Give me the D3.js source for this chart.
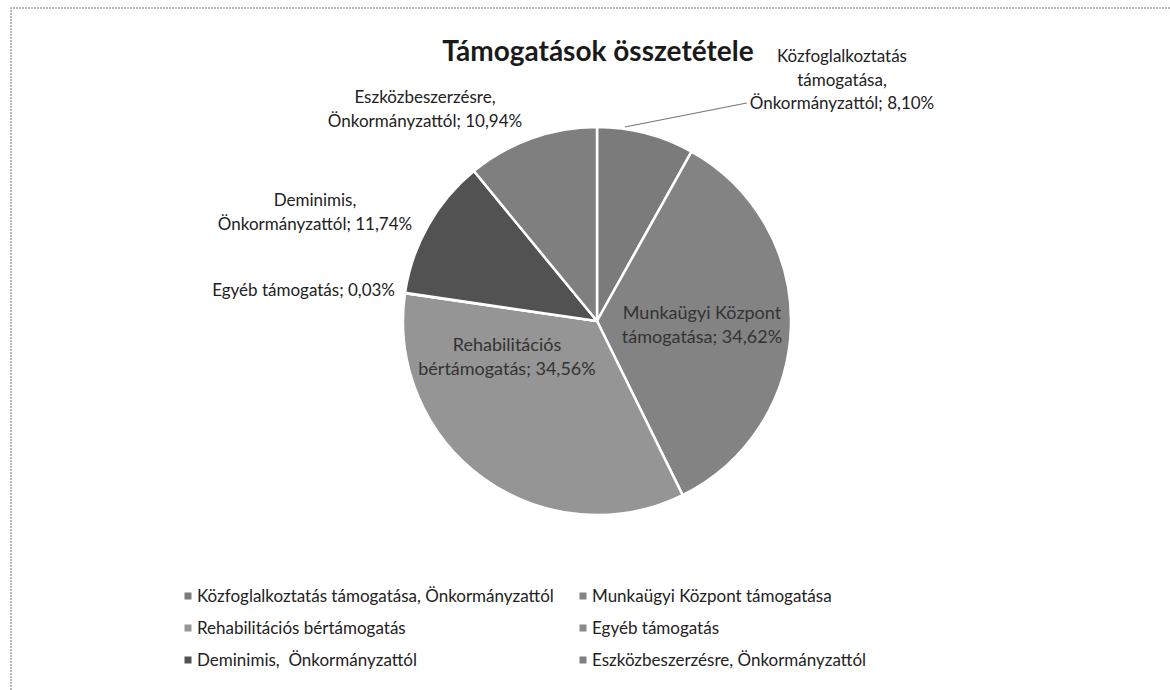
<!DOCTYPE html>
<html>
<head>
<meta charset="utf-8">
<script src="https://cdn.jsdelivr.net/npm/d3@7"></script>
<style>
  body { margin: 0; background: #fff; }
  svg { display: block; font-family: Lato, "Open Sans", sans-serif; }
  text { white-space: pre; }
</style>
</head>
<body>
<div id="chart"></div>
<script>
var w = 1170,
    h = 690;

// data
var categories = [
  "Közfoglalkoztatás támogatása, Önkormányzattól",
  "Munkaügyi Központ támogatása",
  "Rehabilitációs bértámogatás",
  "Egyéb támogatás",
  "Deminimis,  Önkormányzattól",
  "Eszközbeszerzésre, Önkormányzattól"
];
var values = [8.10, 34.62, 34.56, 0.03, 11.74, 10.94];
var labelLines = [
  ["Közfoglalkoztatás", "támogatása,", "Önkormányzattól; 8,10%"],
  ["Munkaügyi Központ", "támogatása; 34,62%"],
  ["Rehabilitációs", "bértámogatás; 34,56%"],
  ["Egyéb támogatás; 0,03%"],
  ["Deminimis,", "Önkormányzattól; 11,74%"],
  ["Eszközbeszerzésre,", "Önkormányzattól; 10,94%"]
];
var greys = ["#7b7b7b", "#838383", "#959595", "#8a8a8a", "#525252", "#7f7f7f"];

var svg = d3.select("#chart")
    .append("svg")
    .attr("width", w)
    .attr("height", h);

// scanned frame (only top and left edge visible)
svg.append("path")
    .attr("d", "M11,690V8H1170")
    .attr("fill", "none")
    .attr("stroke", "#a0a0a0")
    .attr("stroke-width", 1.5)
    .attr("stroke-dasharray", "2,1");

svg.append("text")
    .attr("x", 598)
    .attr("y", 61)
    .attr("text-anchor", "middle")
    .attr("font-size", 28)
    .attr("font-weight", "bold")
    .attr("fill", "#1a1a1a")
    .text("Támogatások összetétele");

var cx = 597, cy = 321, r = 194;

var pie = d3.pie().sort(null).value(function(d) { return d; });
var arcs = pie(values);
var arc = d3.arc().innerRadius(0).outerRadius(r);

var g = svg.append("g").attr("transform", "translate(" + cx + "," + cy + ")");

g.selectAll("path")
    .data(arcs)
    .enter()
    .append("path")
    .attr("d", arc)
    .attr("fill", function(d, i) { return greys[i]; })
    .attr("stroke", "#fff")
    .attr("stroke-width", 2.5)
    .attr("stroke-linejoin", "round");

// label placement: [x, baseline of first line, anchor, colour, size]
var labelPos = [
  [842, 62, "middle", "#222", 17],
  [702, 319, "middle", "#333", 18],
  [507, 351, "middle", "#333", 18],
  [395, 296, "end", "#222", 17],
  [315, 206, "middle", "#222", 17],
  [425, 103, "middle", "#222", 17]
];
var lineH = 23.5;

var labelNodes = labelLines.map(function(lines, i) {
  var p = labelPos[i];
  var t = svg.append("text")
      .attr("x", p[0])
      .attr("y", p[1])
      .attr("text-anchor", p[2])
      .attr("font-size", p[4])
      .attr("fill", p[3]);
  lines.forEach(function(s, j) {
    t.append("tspan")
        .attr("x", p[0])
        .attr("dy", j === 0 ? 0 : lineH)
        .text(s);
  });
  return t;
});

// leader line for the small first slice: from left of its last line to the rim
var last = labelNodes[0].selectAll("tspan").nodes()[2];
var lx = labelPos[0][0] - last.getComputedTextLength() / 2 - 3;
var ly = labelPos[0][1] + 2 * lineH - 6;
var ang = arcs[0].startAngle + (arcs[0].endAngle - arcs[0].startAngle) * 0.28;
svg.append("line")
    .attr("x1", lx)
    .attr("y1", ly)
    .attr("x2", cx + Math.sin(ang) * (r + 2))
    .attr("y2", cy - Math.cos(ang) * (r + 2))
    .attr("stroke", "#777")
    .attr("stroke-width", 1.2);

// legend, three rows of two
var legendRows = [596, 628, 660];
var legend = svg.append("g").attr("font-size", 17).attr("fill", "#222");
var prevEnd = 0;

categories.forEach(function(c, i) {
  var row = Math.floor(i / 2), col = i % 2;
  var y = legendRows[row];
  // second column sits at 583 unless the first entry of the row runs into it
  var x = col === 0 ? 188 : Math.min(583, Math.max(prevEnd + 10, 560));
  legend.append("rect")
      .attr("x", x - 3.5)
      .attr("y", y - 3.5)
      .attr("width", 7)
      .attr("height", 7)
      .attr("fill", greys[i]);
  var t = legend.append("text")
      .attr("x", x + 9)
      .attr("y", y + 6)
      .text(c);
  prevEnd = x + 9 + t.node().getComputedTextLength();
  if (col === 0 && prevEnd + 10 < 583) prevEnd = 583;
});
</script>
</body>
</html>
